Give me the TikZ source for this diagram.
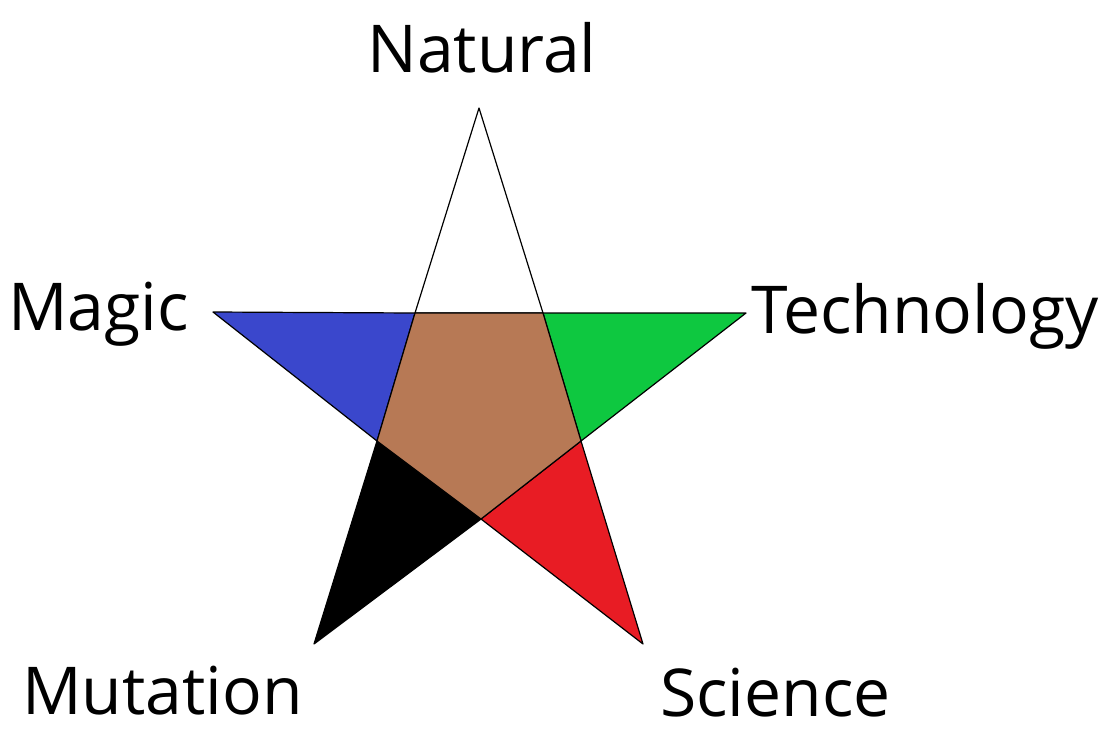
\documentclass[tikz,border=0pt]{standalone}
\usepackage{fontspec}
\setmainfont{Open Sans}
\definecolor{cblue}{RGB}{58,71,204}
\definecolor{cgreen}{RGB}{14,200,64}
\definecolor{cred}{RGB}{232,28,36}
\definecolor{cbrown}{RGB}{183,121,85}
\tikzset{
  part/.style={draw=black, line width=1.2pt, line join=round},
  lbl/.style={inner sep=0pt, font=\fontsize{66}{78}\selectfont}
}
\begin{document}
\begin{tikzpicture}[x=1pt,y=-1pt]
\useasboundingbox (0,0) rectangle (1104,734);
% outer points
\coordinate (T) at (479,108);
\coordinate (L) at (213,312);
\coordinate (R) at (746,313);
\coordinate (BL) at (314,644);
\coordinate (BR) at (643,644);
% inner pentagon
\coordinate (ITL) at (415,313);
\coordinate (ITR) at (543,313);
\coordinate (IR) at (581,441);
\coordinate (IB) at (481,519);
\coordinate (IL) at (377,441);
\fill[white] (T) -- (ITR) -- (ITL) -- cycle;
\draw[part] (T) -- (ITR) -- (ITL) -- cycle;
\draw[part, fill=cblue] (L) -- (ITL) -- (IL) -- cycle;
\draw[part, fill=cgreen] (R) -- (IR) -- (ITR) -- cycle;
\draw[part, fill=black] (BL) -- (IL) -- (IB) -- cycle;
\draw[part, fill=cred] (BR) -- (IB) -- (IR) -- cycle;
\draw[part, fill=cbrown] (ITL) -- (ITR) -- (IR) -- (IB) -- (IL) -- cycle;
% labels
\node[lbl, anchor=base] (natural) at (482,72) {Natural};
\node[lbl, anchor=base west] (magic) at (8,330) {Magic};
\node[lbl, anchor=base west] (tech) at (751,333) {Technology};
\node[lbl, anchor=base west] (mut) at (22,714) {Mutation};
\node[lbl, anchor=base west] (sci) at (660,716) {Science};
\end{tikzpicture}
\end{document}
